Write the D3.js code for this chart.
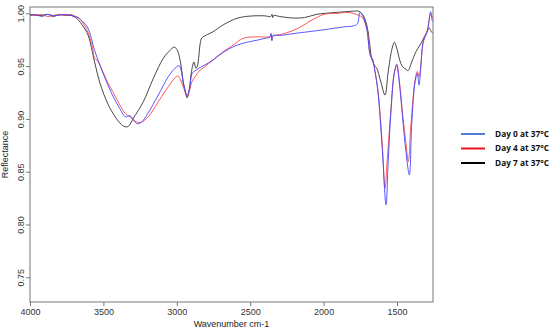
<!DOCTYPE html>
<html>
<head>
<meta charset="utf-8">
<script src="https://cdn.jsdelivr.net/npm/d3@7"></script>
<style>
html,body{margin:0;padding:0;background:#fff;}
svg{display:block;}
</style>
</head>
<body>
<svg id="chart" width="550" height="332"></svg>
<script>
// ---- data ----
const seriesNames = ["Day 0 at 37°C", "Day 4 at 37°C", "Day 7 at 37°C"];
const xTicks = [4000, 3500, 3000, 2500, 2000, 1500];
const yTicks = [0.75, 0.80, 0.85, 0.90, 0.95, 1.00];

const day0Wn = [4000,3960,3920,3880,3840,3800,3760,3720,3690,3673,3639,3605,3560,3524,3469,3433,3387,3350,3319,3290,3270,3240,3194,3126,3058,3012,2985,2970,2956,2940,2930,2915,2895,2880,2850,2810,2753,2685,2615,2550,2450,2400,2365,2358,2352,2346,2300,2195,2011,1854,1800,1770,1752,1735,1706,1683,1665,1650,1630,1600,1575,1560,1540,1520,1502,1485,1460,1440,1416,1400,1377,1362,1350,1340,1321,1294,1271,1260,1255];
const day0R  = [0.998,0.999,0.997,0.999,0.998,0.998,0.999,0.998,0.997,0.996,0.992,0.986,0.965,0.951,0.932,0.921,0.9095,0.902,0.903,0.898,0.8955,0.897,0.906,0.9226,0.940,0.948,0.9504,0.946,0.934,0.925,0.922,0.928,0.9435,0.945,0.948,0.951,0.9558,0.963,0.9684,0.9716,0.9747,0.9763,0.9775,0.981,0.974,0.979,0.979,0.981,0.9842,0.9873,0.988,0.990,1.001,0.998,0.985,0.9605,0.955,0.9447,0.9258,0.870,0.8185,0.860,0.910,0.942,0.951,0.935,0.898,0.870,0.8469,0.895,0.935,0.943,0.932,0.945,0.973,0.9826,1.0015,0.993,0.992];

const day4Wn = [4000,3960,3920,3880,3840,3800,3760,3720,3690,3673,3639,3605,3575,3560,3545,3524,3469,3433,3387,3350,3319,3290,3262,3240,3194,3126,3058,3012,2992,2975,2956,2940,2928,2915,2895,2870,2850,2810,2753,2685,2615,2550,2450,2365,2358,2352,2346,2263,2174,2079,1990,1900,1854,1800,1760,1735,1706,1683,1665,1650,1630,1600,1582,1565,1540,1520,1502,1485,1460,1440,1423,1405,1377,1362,1350,1340,1321,1294,1271,1260,1255];
const day4R  = [0.998,0.998,0.999,0.997,0.998,0.999,0.998,0.999,0.997,0.996,0.991,0.982,0.968,0.9575,0.956,0.951,0.934,0.925,0.913,0.905,0.902,0.8985,0.8965,0.897,0.902,0.9163,0.9305,0.939,0.9406,0.937,0.9305,0.924,0.921,0.926,0.936,0.941,0.945,0.9494,0.9558,0.9636,0.970,0.9763,0.9778,0.978,0.980,0.975,0.978,0.981,0.9858,0.9937,0.9993,1.000,1.001,1.000,0.998,0.996,0.986,0.961,0.956,0.945,0.927,0.875,0.8343,0.865,0.912,0.943,0.952,0.937,0.902,0.878,0.8595,0.895,0.937,0.945,0.940,0.948,0.974,0.984,0.999,0.997,0.995];

const day7Wn = [4000,3960,3920,3880,3840,3800,3760,3720,3690,3673,3639,3605,3560,3524,3469,3433,3387,3353,3330,3296,3228,3160,3092,3046,3019,3000,2978,2956,2940,2930,2915,2900,2883,2870,2860,2840,2830,2790,2753,2685,2590,2501,2400,2360,2352,2346,2340,2300,2200,2130,2050,1990,1900,1800,1760,1735,1706,1690,1672,1655,1638,1610,1582,1560,1535,1518,1500,1480,1465,1440,1425,1400,1370,1343,1302,1280,1268,1255];
const day7R  = [0.999,0.998,0.998,0.999,0.997,0.999,0.998,0.998,0.996,0.994,0.988,0.9795,0.954,0.934,0.914,0.905,0.896,0.8926,0.893,0.9006,0.9163,0.9384,0.9574,0.965,0.968,0.966,0.956,0.935,0.925,0.920,0.928,0.945,0.954,0.948,0.950,0.972,0.9766,0.980,0.9826,0.989,0.9953,0.9974,0.9976,0.997,0.999,0.996,0.998,0.997,0.9955,0.996,0.999,1.000,1.001,1.002,1.002,0.999,0.989,0.975,0.957,0.951,0.948,0.935,0.9226,0.945,0.966,0.9725,0.966,0.955,0.950,0.947,0.9457,0.954,0.964,0.970,0.981,0.986,0.983,0.981];

const lineColors = ["#4646ff", "#ff4646", "#333333"];
const legendColors = ["#4f7fd0", "#e8141e", "#000000"];

// ---- layout ----
const svg = d3.select("#chart");
const L = 30, R = 433, T = 7, B = 302;
const x = d3.scaleLinear().domain([4000, 1255]).range([L, R]);
const y = d3.scaleLinear().domain([0.7266, 1.006]).range([B, T]);

const series = [
  {wn: day0Wn, r: day0R},
  {wn: day4Wn, r: day4R},
  {wn: day7Wn, r: day7R}
];

const line = d3.line()
  .x(d => x(d[0]))
  .y(d => y(d[1]))
  .curve(d3.curveCatmullRom.alpha(0.5));

const plot = svg.append("g");
plot.append("clipPath").attr("id","clip").append("rect")
  .attr("x", L).attr("y", T).attr("width", R - L).attr("height", B - T);

const lines = plot.append("g").attr("clip-path", "url(#clip)");
// draw black first, then red, then blue on top
[2, 1, 0].forEach(i => {
  const s = series[i];
  const pts = s.wn.map((w, k) => [w, s.r[k]]);
  lines.append("path")
    .attr("d", line(pts))
    .attr("fill", "none")
    .attr("stroke", lineColors[i])
    .attr("stroke-width", 1)
    .attr("stroke-opacity", 0.9);
});

// frame
svg.append("rect")
  .attr("x", L).attr("y", T).attr("width", R - L).attr("height", B - T)
  .attr("fill", "none").attr("stroke", "#777").attr("stroke-width", 1);

// axes
const fontFam = "'Liberation Sans', Arial, sans-serif";
const xAxis = d3.axisBottom(x).tickValues(xTicks).tickSize(4).tickPadding(3).tickFormat(d3.format("d"));
const gx = svg.append("g").attr("transform", `translate(0,${B})`).call(xAxis);
gx.select(".domain").remove();
gx.selectAll("line").attr("stroke", "#777");
gx.selectAll("text").attr("font-family", fontFam).attr("font-size", 9).attr("fill", "#333");

const yAxis = d3.axisLeft(y).tickValues(yTicks).tickSize(4).tickFormat(d3.format(".2f"));
const gy = svg.append("g").attr("transform", `translate(${L},0)`).call(yAxis);
gy.select(".domain").remove();
gy.selectAll("line").attr("stroke", "#777");
gy.selectAll("text")
  .attr("font-family", fontFam).attr("font-size", 9).attr("fill", "#333")
  .attr("x", null).attr("dy", null)
  .attr("text-anchor", "middle")
  .attr("transform", "translate(-9,0) rotate(-90)")
  .attr("dy", "0.35em");

// axis titles
svg.append("text")
  .attr("x", (L + R) / 2).attr("y", 327)
  .attr("text-anchor", "middle")
  .attr("font-family", fontFam).attr("font-size", 9).attr("fill", "#222")
  .text("Wavenumber cm-1");

svg.append("text")
  .attr("transform", `translate(8,${(T + B) / 2}) rotate(-90)`)
  .attr("text-anchor", "middle")
  .attr("font-family", fontFam).attr("font-size", 9).attr("fill", "#222")
  .text("Reflectance");

// legend
const lg = svg.append("g");
seriesNames.forEach((name, i) => {
  const ly = 134 + i * 14.5;
  lg.append("line")
    .attr("x1", 461).attr("x2", 485).attr("y1", ly).attr("y2", ly)
    .attr("stroke", legendColors[i]).attr("stroke-width", 2);
  lg.append("text")
    .attr("x", 495).attr("y", ly).attr("dy", "0.35em")
    .attr("font-family", "'Open Sans', 'Liberation Sans', sans-serif")
    .attr("font-weight", "bold").attr("font-size", 8.3).attr("fill", "#111")
    .text(name);
});
</script>
</body>
</html>
